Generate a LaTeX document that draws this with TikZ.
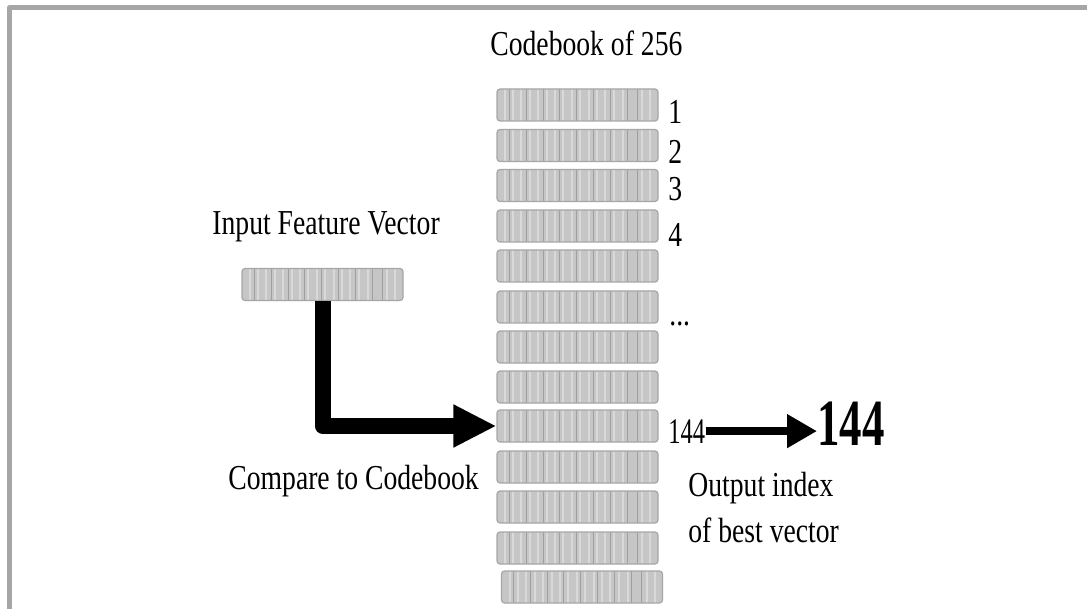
\documentclass[tikz,border=0pt]{standalone}
\usepackage{fontspec}
\setmainfont{Liberation Serif}[FakeStretch=0.79]
\newfontfamily\grande{Liberation Serif}[FakeStretch=0.68]
\usetikzlibrary{arrows.meta}

\begin{document}
\begin{tikzpicture}[x=0.5pt, y=-0.5pt, line join=round,
    every node/.style={font=\fontsize{17.5}{21}\selectfont, inner sep=0pt},
    barra/.style={rectangle, rounded corners=1.5pt, fill=gray!45,
      draw=gray!70, line width=0.6pt,
      minimum width=80.5pt, minimum height=16pt,
      path picture={
        \foreach \s in {8,16,24,33,41,50,58,66,75,83,92,100,108,117,126,145,153}
          \draw[white!70!gray, line width=1pt]
            ([xshift=\s*0.5pt]path picture bounding box.north west) --
            ([xshift=\s*0.5pt]path picture bounding box.south west);
        \foreach \s in {12,29,46,62,79,96,113,130,140}
          \draw[gray!75, line width=0.4pt]
            ([xshift=\s*0.5pt]path picture bounding box.north west) --
            ([xshift=\s*0.5pt]path picture bounding box.south west);
      }},
    flechagorda/.style={line width=8pt, -{Triangle[length=21.5pt, width=20pt]}},
    flechita/.style={line width=4pt, -{Triangle[length=15pt, width=16pt]}}]

  %--- fondo y marco ---
  \useasboundingbox (0,0) rectangle (1087,609);
  \fill[white] (0,0) rectangle (1087,609);
  \draw[gray!70, line width=2.5pt] (9.5,609) -- (9.5,7.5) -- (1087,7.5);

  %--- codebook (filas) ---
  \foreach \n/\y in {1/105, 2/145.5, 3/185.5, 4/226, 5/266, 6/307, 7/347,
                     8/387, 9/426, 10/467, 11/507, 12/548}
    \node[barra] (r\n) at (577.5,\y) {};
  \node[barra] (r13) at (582,587) {};

  \node[anchor=base west] (titulo) at (490,56) {Codebook of 256};

  %--- indices ---
  \foreach \n/\y in {1/124, 2/164, 3/201, 4/247}
    \node[anchor=base west] (i\n) at (668,\y) {\n};
  \node[anchor=base west] (puntos) at (669,326) {...};

  %--- vector de entrada ---
  \node[barra] (inp) at (322.5,284.5) {};
  \node[anchor=base west] (ientrada) at (212,235) {Input Feature Vector};

  %--- comparacion ---
  \draw[flechagorda] (inp.south) |- (r9.west);
  \node[anchor=base west] (comparar) at (228,489) {Compare to Codebook};

  %--- salida ---
  \node[anchor=base west, font=\grande\fontsize{18}{20}\selectfont] (s144) at (668,443) {144};
  \node[anchor=base west, font=\grande\bfseries\fontsize{33}{36}\selectfont] (g144) at (817,445) {144};
  \draw[flechita] (s144.east) -- (s144.east -| g144.west);

  \node[anchor=base west] (salida1) at (688,496) {Output index};
  \node[anchor=base west] (salida2) at (688,542) {of best vector};

\end{tikzpicture}
\end{document}
